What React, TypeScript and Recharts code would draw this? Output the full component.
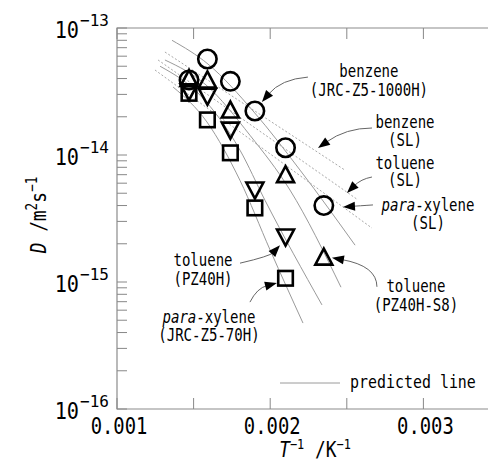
import React from 'react'
import {
  ComposedChart,
  Line,
  ReferenceArea,
  ReferenceDot,
  Scatter,
  XAxis,
  YAxis,
} from 'recharts'

const MONO = '"DejaVu Sans Mono", "Liberation Mono", monospace'
const W = 500
const H = 462
const PLOT_W = 383
const PLOT_H = 381

// inverse temperature (K^-1) of the measured points
const xBenzene = [0.00147, 0.00159, 0.00174, 0.0019, 0.0021, 0.00235]
const dBenzene = [3.9e-14, 5.7e-14, 3.8e-14, 2.22e-14, 1.14e-14, 4.0e-15]
const xTolS8 = [0.00147, 0.00159, 0.00174, 0.0021, 0.00235]
const dTolS8 = [4.0e-14, 3.9e-14, 2.26e-14, 7.0e-15, 1.57e-15]
const xTolPZ = [0.00147, 0.00159, 0.00174, 0.0019, 0.0021]
const dTolPZ = [3.15e-14, 2.9e-14, 1.57e-14, 5.3e-15, 2.26e-15]
const xXylene = [0.00147, 0.00159, 0.00174, 0.0019, 0.0021]
const dXylene = [3.06e-14, 1.89e-14, 1.04e-14, 3.83e-15, 1.07e-15]

// predicted lines (solid)
const predBenzeneX = [0.001359, 0.001594, 0.001894, 0.002195, 0.002554]
const predBenzeneD = [8.0e-14, 5.2e-14, 2.18e-14, 7.6e-15, 1.95e-15]
const predTolS8X = [0.001313, 0.001581, 0.001868, 0.002129, 0.002462]
const predTolS8D = [5.6e-14, 3.56e-14, 1.43e-14, 5.3e-15, 9.1e-16]
const predTolPZX = [0.001281, 0.001542, 0.001803, 0.001966, 0.002338]
const predTolPZD = [5.0e-14, 2.96e-14, 1.09e-14, 4.4e-15, 6.6e-16]
const predXyleneX = [0.001366, 0.001587, 0.001803, 0.001999, 0.002214]
const predXyleneD = [3.43e-14, 1.82e-14, 6.3e-15, 1.79e-15, 4.75e-16]

// SL lines (dotted)
const slBenzeneX = [0.001313, 0.002488]
const slBenzeneD = [6.47e-14, 7.6e-15]
const slTolueneX = [0.001268, 0.002573]
const slTolueneD = [5.6e-14, 4.43e-15]
const slXyleneX = [0.001248, 0.002664]
const slXyleneD = [4.67e-14, 2.66e-15]

const xTicks = [0.001, 0.0015, 0.002, 0.0025, 0.003]
const xTickLabels: Record<string, string> = { '0.001': '0.001', '0.002': '0.002', '0.003': '0.003' }
const yTicks = [
  1e-16, 2e-16, 3e-16, 4e-16, 5e-16, 6e-16, 7e-16, 8e-16, 9e-16,
  1e-15, 2e-15, 3e-15, 4e-15, 5e-15, 6e-15, 7e-15, 8e-15, 9e-15,
  1e-14, 2e-14, 3e-14, 4e-14, 5e-14, 6e-14, 7e-14, 8e-14, 9e-14,
  1e-13,
]

const zip = (xs: number[], ys: number[]) => xs.map((x, i) => ({ x, y: ys[i] }))

function CText({ x, y, size, sx = 0.78, anchor = 'middle', children }: any) {
  return (
    <text
      transform={`translate(${x},${y}) scale(${sx},1)`}
      fontSize={size}
      textAnchor={anchor}
      fontFamily={MONO}
      fill="#000"
    >
      {children}
    </text>
  )
}

const Para = () => (
  <>
    <tspan fontStyle="italic">para</tspan>
    <tspan>-xylene</tspan>
  </>
)

// annotation: tip in data units, the rest are pixel offsets from the tip
const annotations = [
  { x: 0.001946, y: 2.61e-14, l1: 'benzene', l2: '(JRC-Z5-1000H)', tx: 107, ty: [-25, -6], s: [46, -25], c: [19, -23] },
  { x: 0.002312, y: 1.135e-14, l1: 'benzene', l2: '(SL)', tx: 87, ty: [-20, -2], s: [54, -20], c: [28, -20] },
  { x: 0.002501, y: 5.02e-15, l1: 'toluene', l2: '(SL)', tx: 58, ty: [-24, -7], s: [25, -16], c: [14, -14] },
  { x: 0.002475, y: 3.9e-15, l1: 'para', l2: '(SL)', tx: 85, ty: [4, 22], s: [30, -2], c: [15, -1] },
  { x: 0.002064, y: 1.95e-15, l1: 'toluene', l2: '(PZ40H)', tx: -77, ty: [21, 40], s: [-40, 18], c: [-10, 11] },
  { x: 0.002044, y: 9.8e-16, l1: 'para', l2: '(JRC-Z5-70H)', tx: -68, ty: [40, 58], s: [-27, 19], c: [-20, 5] },
  { x: 0.002403, y: 1.55e-15, l1: 'toluene', l2: '(PZ40H-S8)', tx: 84, ty: [34, 53], s: [45, 29], c: [45, 8] },
]

function Annotation({ cx, cy, a }: any) {
  const [sx, sy] = a.s
  const [qx, qy] = a.c
  const len = Math.hypot(qx, qy) || 1
  const ux = -qx / len
  const uy = -qy / len
  const L = 12
  const w = 4.5
  const bx = cx - ux * L
  const by = cy - uy * L
  const px = -uy * w
  const py = ux * w
  return (
    <g>
      <path
        d={`M${cx + sx},${cy + sy} Q${cx + qx},${cy + qy} ${bx + ux * 2},${by + uy * 2}`}
        fill="none"
        stroke="#666"
        strokeWidth={1}
      />
      <path d={`M${cx},${cy} L${bx + px},${by + py} L${bx - px},${by - py} Z`} fill="#000" />
      <CText x={cx + a.tx} y={cy + a.ty[0]} size={18}>
        {a.l1 === 'para' ? <Para /> : a.l1}
      </CText>
      <CText x={cx + a.tx} y={cy + a.ty[1]} size={18}>
        {a.l2}
      </CText>
    </g>
  )
}

const SW = 2.6
const circleShape = (p: any) => <circle cx={p.cx} cy={p.cy} r={9.2} fill="none" stroke="#000" strokeWidth={SW} />
const triUpShape = (p: any) => (
  <path d={`M${p.cx},${p.cy - 8.5} L${p.cx + 8.5},${p.cy + 7.5} L${p.cx - 8.5},${p.cy + 7.5} Z`} fill="none" stroke="#000" strokeWidth={SW} />
)
const triDownShape = (p: any) => (
  <path d={`M${p.cx},${p.cy + 8.5} L${p.cx + 8.5},${p.cy - 7.5} L${p.cx - 8.5},${p.cy - 7.5} Z`} fill="none" stroke="#000" strokeWidth={SW} />
)
const squareShape = (p: any) => (
  <rect x={p.cx - 7.3} y={p.cy - 7.3} width={14.6} height={14.6} fill="none" stroke="#000" strokeWidth={SW} />
)

function YTick({ x, y, payload }: any) {
  const v = payload.value
  const exp = Math.floor(Math.log10(v) + 1e-6)
  const major = Math.abs(v / Math.pow(10, exp) - 1) < 1e-6
  return (
    <g>
      <line x1={x} y1={y} x2={x + 10} y2={y} stroke="#888" strokeWidth={1} />
      <line x1={x + PLOT_W - 10} y1={y} x2={x + PLOT_W} y2={y} stroke="#888" strokeWidth={1} />
      {major && (
        <>
          <CText x={x - 38} y={y + 10} size={23} sx={0.88} anchor="end">10</CText>
          <CText x={x - 37} y={y - 2} size={16} sx={1} anchor="start">{`−${-exp}`}</CText>
        </>
      )}
    </g>
  )
}

function XTick({ x, y, payload }: any) {
  const label = xTickLabels[String(payload.value)]
  return (
    <g>
      <line x1={x} y1={y} x2={x} y2={y - 11} stroke="#888" strokeWidth={1} />
      <line x1={x} y1={y - PLOT_H} x2={x} y2={y - PLOT_H + 11} stroke="#888" strokeWidth={1} />
      {label && (
        <CText x={x + 2} y={y + 25} size={23} sx={0.82}>{label}</CText>
      )}
    </g>
  )
}

const YTitle = () => (
  <text transform="translate(46,215) rotate(-90) scale(0.85,1)" textAnchor="middle" fontFamily={MONO} fontSize={21}>
    <tspan fontStyle="italic">D</tspan>
    <tspan> /m</tspan>
    <tspan dy={-9} fontSize={15}>2</tspan>
    <tspan dy={9}>s</tspan>
    <tspan dy={-9} fontSize={15}>−1</tspan>
  </text>
)

const XTitle = () => (
  <text transform="translate(315,457) scale(0.85,1)" textAnchor="middle" fontFamily={MONO} fontSize={21}>
    <tspan fontStyle="italic">T</tspan>
    <tspan dy={-8} fontSize={14}>−1</tspan>
    <tspan dy={8}> /K</tspan>
    <tspan dy={-8} fontSize={14}>−1</tspan>
  </text>
)

const solid = { stroke: '#9a9a9a', strokeWidth: 1 }
const dotted = { stroke: '#a8a8a8', strokeWidth: 1, strokeDasharray: '2 2' }

export default function App() {
  const predLines = [
    zip(predBenzeneX, predBenzeneD),
    zip(predTolS8X, predTolS8D),
    zip(predTolPZX, predTolPZD),
    zip(predXyleneX, predXyleneD),
  ]
  const slLines = [zip(slBenzeneX, slBenzeneD), zip(slTolueneX, slTolueneD), zip(slXyleneX, slXyleneD)]
  return (
    <div style={{ position: 'fixed', left: 0, top: 0, width: 488, height: 462, overflow: 'hidden', background: '#fff' }}>
      <ComposedChart width={W} height={H} margin={{ top: 28, right: 0, bottom: 0, left: 0 }}>
        <XAxis
          type="number"
          dataKey="x"
          domain={[0.001, 0.0035]}
          ticks={xTicks}
          interval={0}
          allowDataOverflow
          height={53}
          axisLine={false}
          tickLine={false}
          tickSize={0}
          tickMargin={0}
          tick={<XTick />}
          label={<XTitle />}
        />
        <YAxis
          type="number"
          dataKey="y"
          scale="log"
          domain={[1e-16, 1e-13]}
          ticks={yTicks}
          interval={0}
          allowDataOverflow
          width={117}
          axisLine={false}
          tickLine={false}
          tickSize={0}
          tickMargin={0}
          tick={<YTick />}
          label={<YTitle />}
        />
        <ReferenceArea x1={0.001} x2={0.0035} y1={1e-16} y2={1e-13} fill="none" stroke="#8c8c8c" strokeWidth={1.2} ifOverflow="visible" />
        {predLines.map((d, i) => (
          <Line key={'p' + i} data={d} dataKey="y" type="monotone" dot={false} activeDot={false} isAnimationActive={false} {...solid} />
        ))}
        {slLines.map((d, i) => (
          <Line key={'s' + i} data={d} dataKey="y" type="linear" dot={false} activeDot={false} isAnimationActive={false} {...dotted} />
        ))}
        <Scatter data={zip(xXylene, dXylene)} shape={squareShape} isAnimationActive={false} />
        <Scatter data={zip(xTolPZ, dTolPZ)} shape={triDownShape} isAnimationActive={false} />
        <Scatter data={zip(xTolS8, dTolS8)} shape={triUpShape} isAnimationActive={false} />
        <Scatter data={zip(xBenzene, dBenzene)} shape={circleShape} isAnimationActive={false} />
        {annotations.map((a, i) => (
          <ReferenceDot
            key={'a' + i}
            x={a.x}
            y={a.y}
            r={0}
            ifOverflow="visible"
            shape={(p: any) => <Annotation cx={p.cx} cy={p.cy} a={a} />}
          />
        ))}
      </ComposedChart>
      <svg style={{ position: 'absolute', left: 270, top: 370 }} width={218} height={26}>
        <line x1={10} y1={13} x2={70} y2={13} stroke="#9a9a9a" strokeWidth={1} />
        <CText x={80} y={18} size={18} sx={0.83} anchor="start">predicted line</CText>
      </svg>
    </div>
  )
}
